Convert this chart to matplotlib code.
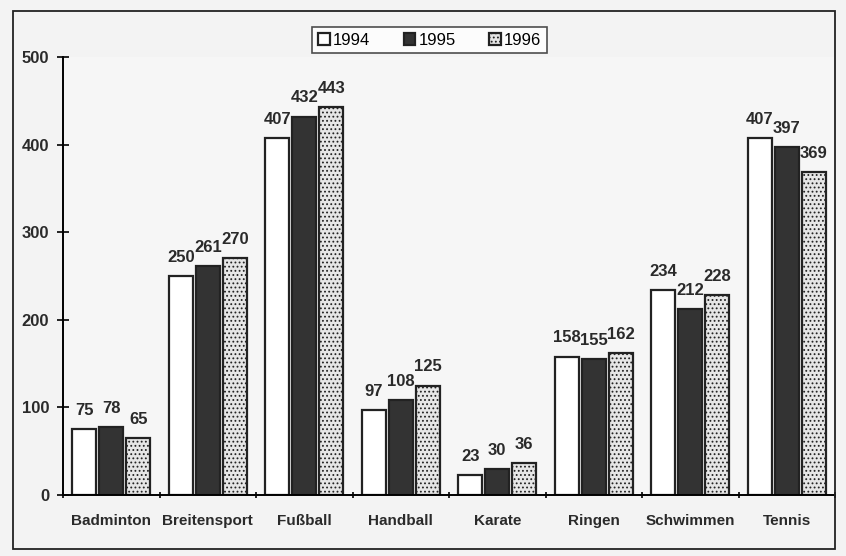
import matplotlib
matplotlib.use("Agg")
import matplotlib.pyplot as plt
import numpy as np
from matplotlib.patches import Rectangle

categories = ["Badminton", "Breitensport", "Fußball", "Handball", "Karate", "Ringen", "Schwimmen", "Tennis"]
v1994 = [75, 250, 407, 97, 23, 158, 234, 407]
v1995 = [78, 261, 432, 108, 30, 155, 212, 397]
v1996 = [65, 270, 443, 125, 36, 162, 228, 369]
years = ["1994", "1995", "1996"]

plt.rcParams['font.family'] = ['Liberation Sans', 'DejaVu Sans']
plt.rcParams['hatch.color'] = '#777777'
plt.rcParams['hatch.linewidth'] = 0.8

fig = plt.figure(figsize=(8.46, 5.56), dpi=100)
fig.patch.set_facecolor('#f3f3f3')
ax = fig.add_axes([63/846, 1-495/556, (835-63)/846, (495-57)/556])
ax.set_facecolor('#f6f6f6')

x = np.arange(len(categories)) + 0.5
w = 0.25
step = 0.28
series = [v1994, v1995, v1996]
styles = [dict(color='white', edgecolor='#222222'),
          dict(color='#333333', edgecolor='#222222'),
          dict(color='#e6e6e6', edgecolor='#222222', hatch='....')]
for k, (vals, st) in enumerate(zip(series, styles)):
    pos = x + (k - 1) * step
    ax.bar(pos, vals, width=w, linewidth=1.6, label=years[k], **st)
    for p, v in zip(pos, vals):
        ax.annotate(str(v), (p, v), xytext=(0, 8), textcoords='offset points',
                    ha='center', va='bottom', fontsize=12, fontweight='bold', color='#2a2a2a')

ax.set_xlim(0, len(categories))
ax.set_ylim(0, 500)
ax.set_yticks([0, 100, 200, 300, 400, 500])
ax.set_xticks(x)
ax.set_xticklabels(categories, fontsize=11, fontweight='bold', color='#2a2a2a')
ax.set_xticks(np.arange(len(categories) + 1), minor=True)
ax.tick_params(axis='x', which='major', length=0, pad=14)
ax.tick_params(axis='x', which='minor', length=5, direction='inout', width=1.2)
ax.tick_params(axis='y', length=8, direction='inout', width=1.2, labelsize=12, pad=6)
for lab in ax.get_yticklabels():
    lab.set_fontweight('bold')
    lab.set_color('#2a2a2a')
for s in ['top', 'right']:
    ax.spines[s].set_visible(False)
ax.spines['left'].set_linewidth(1.4)
ax.spines['bottom'].set_linewidth(1.4)

leg = ax.legend(ncol=3, loc='lower center', bbox_to_anchor=(0.475, 1.008),
                borderaxespad=0.0,
                frameon=True, fancybox=False, edgecolor='#222222', fontsize=12,
                handlelength=0.7, handleheight=0.7, columnspacing=2.0, handletextpad=0.2,
                borderpad=0.35)
leg.get_frame().set_linewidth(1.2)
leg.get_frame().set_facecolor('white')

fig.add_artist(Rectangle((13/846, 1-549/556), (835-13)/846, (549-11)/556,
                         transform=fig.transFigure, fill=False, edgecolor='#222222', linewidth=1.3))

fig.savefig('out.png', dpi=100, facecolor=fig.get_facecolor())
